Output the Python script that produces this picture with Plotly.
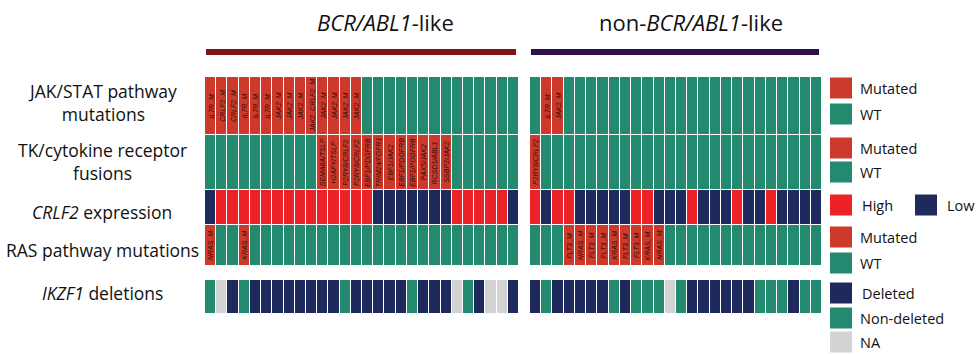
import numpy as np
import plotly.graph_objects as go

# ---------------- data ----------------
# Per-patient calls; an empty string means wild type / no fusion.
bcr_jak_stat = ["IL7R_M", "CRLF2_M", "CRLF2_M", "IL7R_M", "IL7R_M", "IL7R_M", "JAK2_M",
                "JAK2_M", "JAK2_M", "JAK2_CRLF2_M", "JAK2_M", "JAK2_M", "JAK2_M", "JAK2_M",
                "", "", "", "", "", "", "", "", "", "", "", "", "", ""]
bcr_tk_fusion = ["", "", "", "", "", "", "", "", "", "",
                 "SEMA6A/TSLP", "H2AFY/TSLP", "P2RY8/CRLF2", "P2RY8/CRLF2", "EBF1/PDGFRB",
                 "TRIM24/FGFR1", "EBF1/JAK2", "EBF1/PDGFRB", "EBF1/PDGFRB", "PAX5/JAK2",
                 "RCSD1/ABL1", "SSBP2/JAK2", "", "", "", "", "", ""]
bcr_crlf2 = ["L", "H", "H", "H", "H", "H", "H", "H", "H", "H", "H", "H", "H", "H", "H",
             "L", "L", "L", "L", "L", "L", "L", "H", "H", "H", "H", "H", "L"]
bcr_ras = ["NRAS_M", "", "", "KRAS_M", "", "", "", "", "", "", "", "", "", "",
           "", "", "", "", "", "", "", "", "", "", "", "", "", ""]
bcr_ikzf1 = ["N", "NA", "D", "N", "D", "D", "D", "D", "D", "D", "D", "D", "N", "D",
             "D", "D", "D", "D", "N", "D", "D", "D", "NA", "N", "D", "NA", "NA", "D"]

non_jak_stat = ["", "IL7R_M", "JAK2_M", "", "", "", "", "", "", "", "", "", "",
                "", "", "", "", "", "", "", "", "", "", "", "", ""]
non_tk_fusion = ["P2RY8/CRLF2", "", "", "", "", "", "", "", "", "", "", "", "",
                 "", "", "", "", "", "", "", "", "", "", "", "", ""]
non_crlf2 = ["H", "L", "H", "H", "L", "L", "L", "L", "L", "H", "H", "L", "L",
             "L", "H", "L", "L", "L", "H", "L", "L", "H", "L", "L", "L", "L"]
non_ras = ["", "", "", "FLT3_M", "NRAS_M", "FLT3_M", "FLT3_M", "KRAS_M", "FLT3_M",
           "FLT3_M", "KRAS_M", "NRAS_M", "", "", "", "", "", "", "", "", "", "", "", "", "", ""]
non_ikzf1 = ["D", "N", "D", "D", "D", "D", "D", "N", "D", "N", "N", "N", "NA",
             "N", "D", "D", "D", "D", "D", "D", "N", "N", "N", "D", "N", "N"]

row_labels = ["JAK/STAT pathway<br>mutations", "TK/cytokine receptor<br>fusions",
              "<i>CRLF2</i> expression", "RAS pathway mutations", "<i>IKZF1</i> deletions"]
group_titles = ["<i>BCR/ABL1</i>-like", "non-<i>BCR/ABL1</i>-like"]

# ---------------- styling ----------------
W, H = 980, 354
COLORS = ["#23896f", "#cd3a2b", "#ec2227", "#1e2a5c", "#d3d3d3"]  # WT, mutated, high, low/deleted, NA
WT, MUT, HIGH, LOW, NA_ = range(5)
ROW_EDGES = [77, 135, 190, 225, 266, 280, 314]       # last-but-one band is a spacer
PANELS = [(205, 519), (530, 822)]
BAR_COLORS = ["#7b1518", "#2f1148"]
TITLE_X = [385, 691]
LABEL_Y = [102, 161, 212, 250, 293]
LABEL_FONT = "Open Sans"


def px(x):
    """Horizontal pixel position -> paper fraction."""
    return x / W


def mutation_codes(calls):
    return [MUT if c else WT for c in calls]


def expr_codes(calls):
    return [HIGH if c == "H" else LOW for c in calls]


def deletion_codes(calls):
    return [{"D": LOW, "N": WT, "NA": NA_}[c] for c in calls]


def panel_matrix(jak, tk, crlf2, ras, ikzf1):
    n = len(jak)
    return [mutation_codes(jak), mutation_codes(tk), expr_codes(crlf2),
            mutation_codes(ras), [np.nan] * n, deletion_codes(ikzf1)]


panels = [
    dict(z=panel_matrix(bcr_jak_stat, bcr_tk_fusion, bcr_crlf2, bcr_ras, bcr_ikzf1),
         text_rows=[bcr_jak_stat, bcr_tk_fusion, None, bcr_ras]),
    dict(z=panel_matrix(non_jak_stat, non_tk_fusion, non_crlf2, non_ras, non_ikzf1),
         text_rows=[non_jak_stat, non_tk_fusion, None, non_ras]),
]

colorscale = []
for i, c in enumerate(COLORS):
    colorscale.append([i / len(COLORS), c])
    colorscale.append([(i + 1) / len(COLORS), c])

fig = go.Figure()
annotations = []
shapes = []

for p, panel in enumerate(panels):
    xa = "x" if p == 0 else "x2"
    n = len(panel["z"][0])
    fig.add_trace(go.Heatmap(
        z=panel["z"], x=list(range(n)), y=ROW_EDGES,
        xaxis=xa, yaxis="y",
        colorscale=colorscale, zmin=-0.5, zmax=len(COLORS) - 0.5,
        showscale=False, xgap=1, ygap=1, hoverinfo="skip",
    ))
    for r, calls in enumerate(panel["text_rows"]):
        if calls is None:
            continue
        yc = (ROW_EDGES[r] + ROW_EDGES[r + 1]) / 2
        for i, lab in enumerate(calls):
            if lab:
                annotations.append(dict(
                    x=i, y=yc, xref=xa, yref="y", text=f"<i>{lab}</i>",
                    textangle=-90, showarrow=False,
                    font=dict(family="Liberation Sans", size=7, color="#240c08"),
                    xanchor="center", yanchor="middle",
                ))
    # group title and underline bar
    x0, x1 = PANELS[p]
    annotations.append(dict(x=px(TITLE_X[p]), y=22, xref="paper", yref="y", text=group_titles[p],
                            showarrow=False, font=dict(family=LABEL_FONT, size=22, color="#111"),
                            xanchor="center", yanchor="middle"))
    shapes.append(dict(type="line", xref="paper", yref="y", x0=px(x0 + 1), x1=px(x1 - 3), y0=52, y1=52,
                       line=dict(color=BAR_COLORS[p], width=6)))

# row labels
for lab, y in zip(row_labels, LABEL_Y):
    annotations.append(dict(x=px(102), y=y, xref="paper", yref="y", text=lab, showarrow=False,
                            font=dict(family=LABEL_FONT, size=17.5, color="#111"),
                            xanchor="center", yanchor="middle", align="center"))

# legend keys
legend_items = [
    ("Mutated", MUT, 88, 830), ("WT", WT, 114, 830),
    ("Mutated", MUT, 148, 830), ("WT", WT, 172, 830),
    ("High", HIGH, 205, 830), ("Low", LOW, 205, 915),
    ("Mutated", MUT, 237, 830), ("WT", WT, 263, 830),
    ("Deleted", LOW, 293, 830), ("Non-deleted", WT, 318, 830), ("NA", NA_, 342, 830),
]
for text, code, yc, x in legend_items:
    shapes.append(dict(type="rect", xref="paper", yref="y", x0=px(x), x1=px(x + 22),
                       y0=yc - 10.5, y1=yc + 10.5,
                       fillcolor=COLORS[code], line=dict(width=0)))
    annotations.append(dict(x=px(x + 28 + (2 if code in (HIGH, LOW) else 0)), y=yc,
                            xref="paper", yref="y",
                            text=text, showarrow=False,
                            font=dict(family=LABEL_FONT, size=14.5, color="#111"),
                            xanchor="left", yanchor="middle"))

hidden = dict(visible=False, showgrid=False, zeroline=False, fixedrange=True)
fig.update_layout(
    width=W, height=H, margin=dict(l=0, r=0, t=0, b=0),
    paper_bgcolor="white", plot_bgcolor="rgba(0,0,0,0)",
    xaxis=dict(domain=[PANELS[0][0] / W, PANELS[0][1] / W], range=[-0.5, len(bcr_crlf2) - 0.5],
               anchor="y", **hidden),
    xaxis2=dict(domain=[PANELS[1][0] / W, PANELS[1][1] / W], range=[-0.5, len(non_crlf2) - 0.5],
                anchor="y", **hidden),
    yaxis=dict(domain=[0, 1], range=[H, 0], **hidden),
    annotations=annotations, shapes=shapes, showlegend=False,
)

fig.write_html("out.html")
